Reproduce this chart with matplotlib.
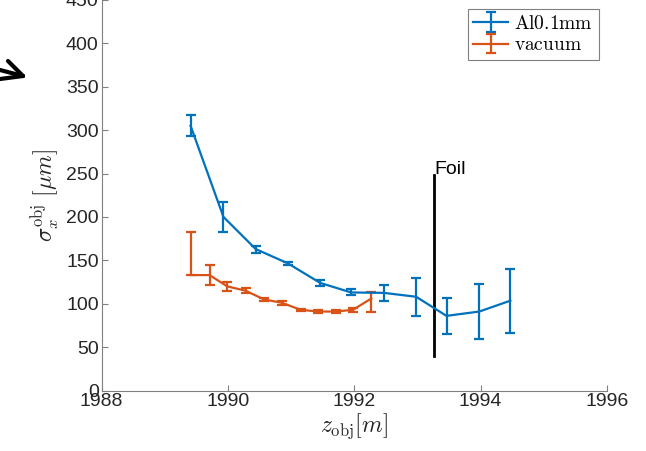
import matplotlib
matplotlib.use("Agg")
import matplotlib.pyplot as plt
from matplotlib.lines import Line2D

plt.rcParams["font.family"] = ["Liberation Sans", "DejaVu Sans"]
plt.rcParams["mathtext.fontset"] = "cm"

# Al 0.1 mm foil data
z_al = [1989.41, 1989.93, 1990.44, 1990.95, 1991.46, 1991.95, 1992.47, 1992.98, 1993.46, 1993.98, 1994.47]
sig_al = [305, 200, 163, 146.5, 124, 113, 112.5, 108, 86, 91, 103.5]
err_al = [12, 17, 4, 1.5, 3.5, 3.5, 9, 22, 21, 32, 37]

# vacuum data
z_vac = [1989.41, 1989.71, 1989.99, 1990.28, 1990.57, 1990.86, 1991.15, 1991.43, 1991.71, 1991.98, 1992.27]
sig_vac = [133, 133, 120, 115, 105, 101, 93, 91, 91, 93, 106]
err_vac_lo = [0, 12, 5, 3, 2, 2, 1, 1.5, 1.5, 2, 16]
err_vac_hi = [50, 12, 5, 3, 2, 2, 1, 1.5, 1.5, 2, 7]

foil_z = 1993.27
foil_range = [40, 248]

blue = "#0072BD"
orange = "#D95319"
grey = "#262626"

fig = plt.figure(figsize=(6.46, 4.51), dpi=100)
ax = fig.add_axes([101.5 / 646, 1 - 390.5 / 451, 505.5 / 646, 390.5 / 451])

ax.errorbar(z_al, sig_al, yerr=err_al, color=blue, lw=1.6, elinewidth=1.6,
            capsize=3.5, capthick=1.6, label=r"$\mathrm{Al0.1mm}$")
ax.errorbar(z_vac, sig_vac, yerr=[err_vac_lo, err_vac_hi], color=orange, lw=1.6,
            elinewidth=1.6, capsize=3.5, capthick=1.6, label=r"$\mathrm{vacuum}$")

ax.plot([foil_z, foil_z], foil_range, color="k", lw=2)
ax.text(foil_z, foil_range[1] + 1, "Foil", fontsize=14, ha="left", va="baseline")

ax.set_xlim(1988, 1996)
ax.set_ylim(0, 450)
ax.set_xticks(range(1988, 1997, 2))
ax.set_yticks(range(0, 451, 50))
for s in ["top", "right"]:
    ax.spines[s].set_visible(False)
for s in ["left", "bottom"]:
    ax.spines[s].set_color("#808080")
    ax.spines[s].set_linewidth(0.8)
ax.tick_params(direction="in", length=4, width=0.8, color="#808080",
               labelsize=14, labelcolor=grey, pad=2)

ax.set_xlabel(r"$z_{\mathrm{obj}}[m]$", fontsize=17, color=grey, labelpad=1)
ax.set_ylabel(r"$\sigma_x^{\mathrm{obj}}\ [\mu m]$", fontsize=17, color=grey, labelpad=3)

leg = ax.legend(loc="upper right", bbox_to_anchor=(0.984, 0.977), borderaxespad=0,
                fancybox=False, framealpha=1, edgecolor="#808080", fontsize=14,
                handlelength=1.8, handletextpad=0.3, borderpad=0.3, labelspacing=0.2)
leg.get_frame().set_linewidth(0.8)

# hand drawn arrow at the left edge
H = 451.0
W = 646.0
for (x0, y0) in [(8, 61), (0, 70), (0, 79)]:
    fig.add_artist(Line2D([x0 / W, 23 / W], [1 - y0 / H, 1 - 76 / H],
                          color="k", lw=3, solid_capstyle="round"))

fig.savefig("out.png", dpi=100)
